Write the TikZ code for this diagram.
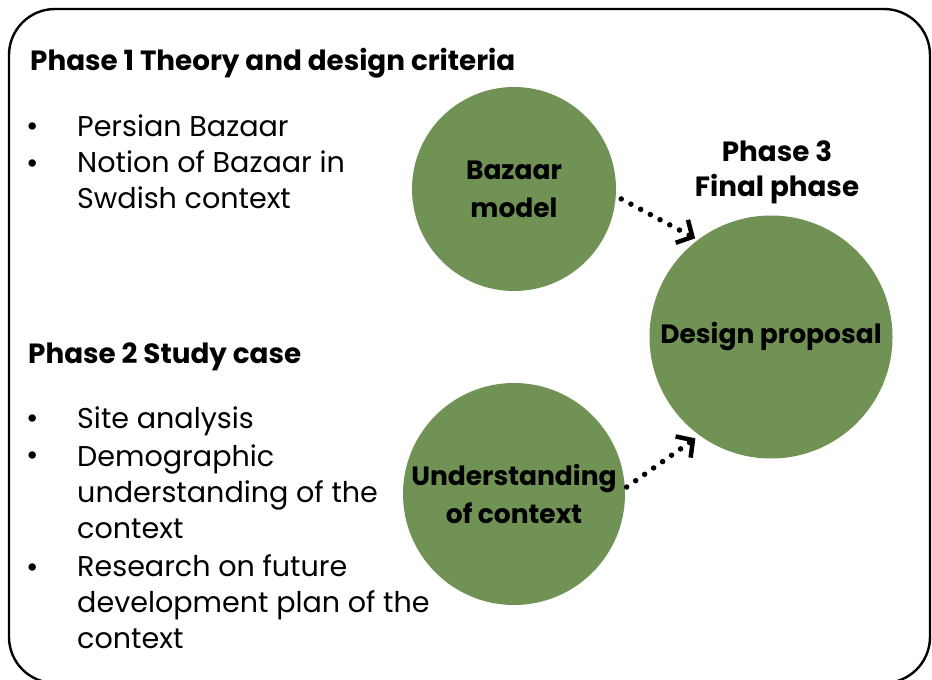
\documentclass[tikz,border=0pt]{standalone}
\usepackage{fontspec}
\setmainfont{Poppins}
\usetikzlibrary{arrows.meta}
\definecolor{leaf}{RGB}{112,146,84}
\begin{document}
\begin{tikzpicture}[x=1pt,y=-1pt,
    phase/.style={anchor=base west,inner sep=0pt,font=\fontsize{27.8}{35}\selectfont\bfseries},
    item/.style={anchor=base west,inner sep=0pt,align=left,font=\fontsize{28.6}{36}\selectfont},
    dot/.style={anchor=base,inner sep=0pt,font=\fontsize{30}{36}\selectfont},
    blob/.style={circle,fill=leaf,inner sep=0pt,align=center,font=\fontsize{26.5}{38}\selectfont\bfseries},
    hop/.style={line width=5.5pt,line cap=round,dash pattern=on 0pt off 11pt,
        -{Straight Barb[length=12pt,width=26pt,line width=4.5pt]}}]
    \useasboundingbox (0,0) rectangle (932,680);
    \draw[line width=2.4pt,rounded corners=46pt] (9,9) rectangle (930,683);

    \node[phase] (p1) at (30,70) {Phase 1 Theory and design criteria};
    \node[dot] (d1) at (33,136) {•};
    \node[item] (i1) at (77,136) {Persian Bazaar};
    \node[dot] (d2) at (33,173) {•};
    \node[item] (i2) at (77,208) {Notion of Bazaar in\\Swdish context};

    \node[phase] (p2) at (28,363) {Phase 2 Study case};
    \node[dot] (d3) at (33,428) {•};
    \node[item] (i3) at (77,428) {Site analysis};
    \node[dot] (d4) at (33,465) {•};
    \node[item] (i4) at (77,538) {Demographic\\understanding of the\\context};
    \node[dot] (d5) at (33,577) {•};
    \node[item] (i5) at (77,648) {Research on future\\development plan of the\\context};

    \node[blob,minimum size=204pt] (bazaar) at (514,189) {Bazaar\\model};
    \node[blob,minimum size=222pt] (context) at (514,494) {Understanding\\of context};
    \node[blob,minimum size=243pt] (design) at (771,337) {Design proposal};
    \node[phase,anchor=base,align=center] (p3) at (777,196) {Phase 3\\Final phase};

    \draw[hop,shorten <=6pt,shorten >=3pt] (bazaar.-4) -- (design.127);
    \draw[hop,shorten <=2pt,shorten >=5pt] (context.3.5) -- (design.-126);
\end{tikzpicture}
\end{document}
